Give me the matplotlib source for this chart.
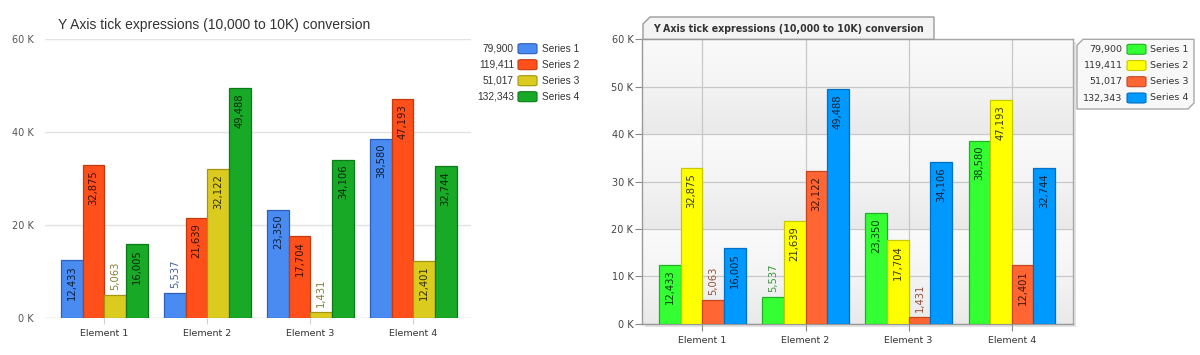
import numpy as np
import matplotlib
matplotlib.use("Agg")
import matplotlib.pyplot as plt
from matplotlib.colors import to_rgb
from matplotlib.patches import Polygon, Rectangle, FancyBboxPatch
from matplotlib.ticker import FuncFormatter, MultipleLocator

categories = ["Element 1", "Element 2", "Element 3", "Element 4"]
series_names = ["Series 1", "Series 2", "Series 3", "Series 4"]
series1 = [12433, 5537, 23350, 38580]
series2 = [32875, 21639, 17704, 47193]
series3 = [5063, 32122, 1431, 12401]
series4 = [16005, 49488, 34106, 32744]
title = "Y Axis tick expressions (10,000 to 10K) conversion"

series = [series1, series2, series3, series4]

left_faces = ["#4a8bf2", "#ff4f1a", "#dccb1f", "#18a927"]
left_edges = ["#2c5fb8", "#c23a0e", "#a39512", "#0d7a18"]
right_faces = ["#33ff33", "#ffff00", "#ff6633", "#0099ff"]
right_edges = ["#22b022", "#c8c800", "#c8461e", "#0070c4"]

W, H = 1200, 355
fig = plt.figure(figsize=(W / 100, H / 100), dpi=100)
fig.patch.set_facecolor("white")

FONT = "DejaVu Sans"


def fx(px):
    return px / W


def fy(py):
    return 1 - py / H


def kfmt(v, _):
    return f"{int(round(v / 1000))} K"


def draw_bars(ax, faces, edges, label_font):
    n = len(series)
    bw = 0.21
    x = np.arange(len(categories))
    for i, vals in enumerate(series):
        xs = x + (i - (n - 1) / 2) * bw
        ax.bar(xs, vals, width=bw, color=faces[i], edgecolor=edges[i],
               linewidth=0.9, zorder=3)
        c = np.array(to_rgb(faces[i]))
        inside_col = tuple(c * 0.22)
        outside_col = tuple(np.clip(c * 0.45 + 0.14, 0, 1))
        for xi, v in zip(xs, vals):
            if v > 9000:
                ax.annotate(f"{v:,}", (xi, v), xytext=(0, -3.6),
                            textcoords="offset points", rotation=90,
                            ha="center", va="top", fontsize=7.2,
                            color=inside_col, family=label_font, zorder=4)
            else:
                ax.annotate(f"{v:,}", (xi, v), xytext=(0, 3.6),
                            textcoords="offset points", rotation=90,
                            ha="center", va="bottom", fontsize=7.2,
                            color=outside_col, family=label_font, zorder=4)


# ---------------- Left chart ----------------
axL = fig.add_axes([fx(45), fy(318.3), fx(471 - 45), (318.3 - 39.3) / H])
axL.set_xlim(-0.576, 3.56)
axL.set_ylim(0, 60000)
axL.set_facecolor("white")
for s in axL.spines.values():
    s.set_visible(False)
axL.yaxis.set_major_locator(MultipleLocator(20000))
axL.yaxis.set_major_formatter(FuncFormatter(kfmt))
axL.grid(axis="y", color="#e2e2e2", linewidth=1.0, zorder=0)
axL.axhline(0, color="#dcdcdc", linewidth=1.0, zorder=1)
axL.tick_params(axis="y", length=0, pad=8, labelsize=7, labelcolor="#555555")
axL.set_xticks(np.arange(len(categories)))
axL.set_xticklabels(categories, fontsize=6.8, color="#333333", family=FONT)
axL.tick_params(axis="x", length=4, color="#d0d0d0", pad=3.5)
for t in axL.get_yticklabels():
    t.set_family(FONT)
draw_bars(axL, left_faces, left_edges, FONT)

fig.text(fx(58), fy(25), title, fontsize=10, color="#333333",
         family="Liberation Sans", ha="left", va="center")

# left legend
rows_y = [48.7, 64.7, 80.7, 96.7]
for i in range(4):
    yy = rows_y[i]
    fig.text(fx(514), fy(yy), f"{sum(series[i]):,}", fontsize=7.3,
             family="Liberation Sans", color="#333333", ha="right", va="center")
    fig.patches.append(FancyBboxPatch((fx(518), fy(yy + 5)), fx(19), 10 / H,
                                      boxstyle="round,pad=0,rounding_size=0.003",
                                      transform=fig.transFigure, figure=fig,
                                      facecolor=left_faces[i], edgecolor=left_edges[i],
                                      linewidth=0.8))
    fig.text(fx(542), fy(yy), series_names[i], fontsize=7.3,
             family="Liberation Sans", color="#333333", ha="left", va="center")

# ---------------- Right chart ----------------
rx0, rx1, ry0, ry1 = 642.3, 1072.7, 39.3, 323.7
# shadow
fig.patches.append(Rectangle((fx(rx0 + 3), fy(ry1 + 3)), fx(rx1 - rx0), (ry1 - ry0) / H,
                             transform=fig.transFigure, figure=fig,
                             facecolor="#e4e4e4", edgecolor="none", zorder=-5))
axR = fig.add_axes([fx(rx0), fy(ry1), fx(rx1 - rx0), (ry1 - ry0) / H])
axR.set_zorder(1)
xl = (-0.582, 3.59)
axR.set_xlim(*xl)
axR.set_ylim(0, 60000)

# banded gradient background
yy = np.linspace(0, 60000, 600)
band = (yy // 10000).astype(int)
t = (yy % 10000) / 10000.0
dark = (band % 2 == 0)
shade = np.where(dark, 0.915 + 0.04 * t, 0.958 + 0.022 * t)
img = np.repeat(shade[:, None], 2, axis=1)
img = np.dstack([img, img, img])
axR.imshow(img, origin="lower", extent=(xl[0], xl[1], 0, 60000),
           aspect="auto", zorder=0, interpolation="bilinear")
axR.set_xlim(*xl)
axR.set_ylim(0, 60000)

for s in axR.spines.values():
    s.set_color("#a8a8a8")
    s.set_linewidth(1.0)
axR.spines["left"].set_color("#999999")
axR.spines["bottom"].set_color("#999999")
axR.yaxis.set_major_locator(MultipleLocator(10000))
axR.yaxis.set_major_formatter(FuncFormatter(kfmt))
axR.set_xticks(np.arange(len(categories)))
axR.set_xticklabels(categories, fontsize=6.8, color="#333333", family=FONT)
axR.grid(True, color="#c8c8c8", linewidth=0.9, zorder=1)
axR.set_axisbelow(True)
axR.tick_params(axis="y", length=5, color="#888888", pad=1.5, labelsize=7,
                labelcolor="#444444")
axR.tick_params(axis="x", length=5, color="#888888", pad=3.5)
for tl in axR.get_yticklabels():
    tl.set_family(FONT)
draw_bars(axR, right_faces, right_edges, FONT)

# title tab
tab = Polygon([(fx(643), fy(39.3)), (fx(643), fy(24)), (fx(650), fy(17)),
               (fx(934), fy(17)), (fx(934), fy(39.3))], closed=True,
              transform=fig.transFigure, figure=fig,
              facecolor="#f3f3f3", edgecolor="#9a9a9a", linewidth=1.0, zorder=2)
fig.patches.append(tab)
fig.text(fx(653), fy(28.5), title, fontsize=6.85, fontweight="bold",
         family=FONT, color="#333333", ha="left", va="center", zorder=3)

# right legend
lx0, lx1, ly0, ly1 = 1077, 1194, 39.3, 109
b = 6
leg = Polygon([(fx(lx0), fy(ly0 + b)), (fx(lx0 + b), fy(ly0)), (fx(lx1), fy(ly0)),
               (fx(lx1), fy(ly1 - b)), (fx(lx1 - b), fy(ly1)), (fx(lx0), fy(ly1))],
              closed=True, transform=fig.transFigure, figure=fig,
              facecolor="#f8f8f8", edgecolor="#a8a8a8", linewidth=1.0, zorder=2)
fig.patches.append(leg)
rows_y2 = [49.3, 65.5, 81.7, 98.0]
for i in range(4):
    yy2 = rows_y2[i]
    fig.text(fx(1122.7), fy(yy2), f"{sum(series[i]):,}", fontsize=6.8,
             family=FONT, color="#333333", ha="right", va="center", zorder=3)
    fig.patches.append(FancyBboxPatch((fx(1127), fy(yy2 + 5)), fx(19), 10 / H,
                                      boxstyle="round,pad=0,rounding_size=0.003",
                                      transform=fig.transFigure, figure=fig,
                                      facecolor=right_faces[i], edgecolor=right_edges[i],
                                      linewidth=0.8, zorder=3))
    fig.text(fx(1150), fy(yy2), series_names[i], fontsize=6.8,
             family=FONT, color="#333333", ha="left", va="center", zorder=3)

fig.savefig("out.png", dpi=100, facecolor="white")
